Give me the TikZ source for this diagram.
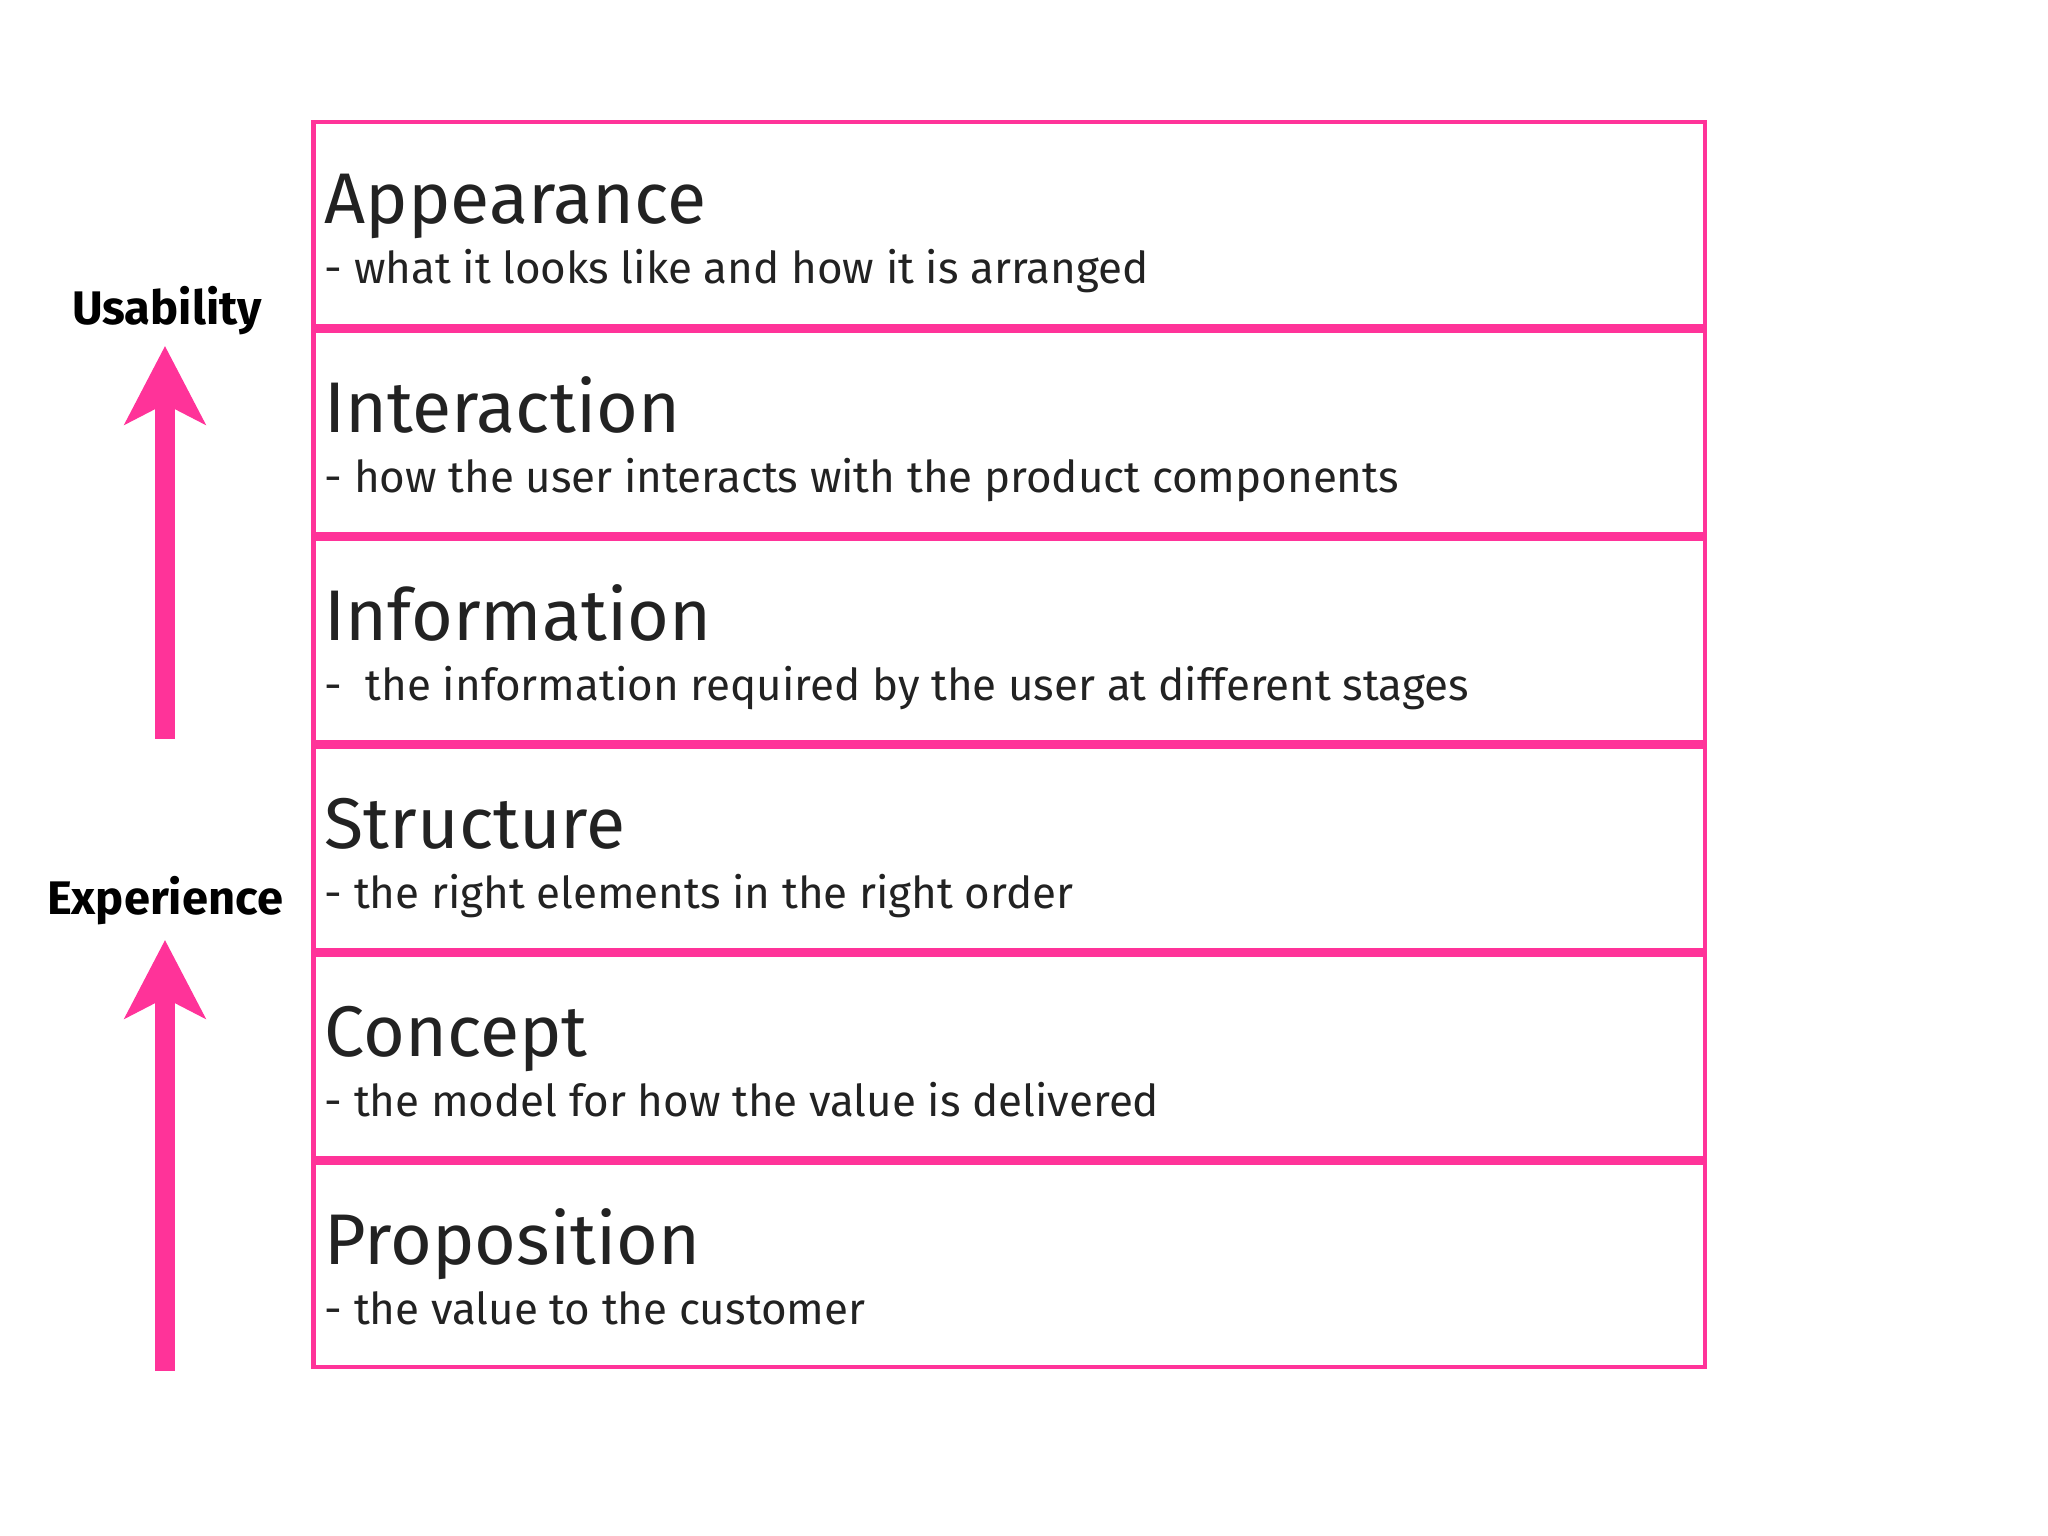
\documentclass[tikz,border=0pt]{standalone}
\usepackage{fontspec}
\setmainfont{Fira Sans}
\usetikzlibrary{positioning,arrows.meta}
\definecolor{planepink}{RGB}{255,51,153}
\definecolor{planetext}{RGB}{34,34,34}

\begin{document}
\begin{tikzpicture}[
  layer/.style={draw=planepink,line width=0.045cm,fill=white,inner sep=0pt,
    minimum width=13.915cm,minimum height=2.037cm},
  ltitle/.style={anchor=base west,inner sep=0pt,text=planetext,font=\fontsize{20.4pt}{24pt}\selectfont},
  lsub/.style={anchor=base west,inner sep=0pt,text=planetext,font=\fontsize{12.5pt}{15pt}\selectfont},
  side/.style={anchor=base,inner sep=0pt,font=\fontsize{13.4pt}{16pt}\selectfont\bfseries},
  uparrow/.style={draw=planepink,line width=0.19cm,-{Stealth[length=0.78cm,width=0.80cm,inset=0.2cm]}},
  node distance=0pt
]
\useasboundingbox (0,0) rectangle (20.48,15.36);
\node[layer,anchor=north west] (appear) at (3.11,14.16) {};
\node[layer,below=of appear] (inter) {};
\node[layer,below=of inter] (info) {};
\node[layer,below=of info] (struct) {};
\node[layer,below=of struct] (concept) {};
\node[layer,below=of concept] (prop) {};
\foreach \row/\title/\sub in {appear/Appearance/- what it looks like and how it is arranged,
    inter/Interaction/- how the user interacts with the product components,
    info/Information/-\ \ the information required by the user at different stages,
    struct/Structure/- the right elements in the right order,
    concept/Concept/- the model for how the value is delivered,
    prop/Proposition/- the value to the customer}{
  \node[ltitle] (\row-title) at ([shift={(0.13,-1.04)}]\row.north west) {\title};
  \node[lsub] (\row-sub) at ([shift={(0.13,-1.64)}]\row.north west) {\sub};
}
\node[side] (usab) at (1.67,12.11) {Usability};
\node[side] (exper) at (1.65,6.21) {Experience};
\coordinate (usabfoot) at (1.65,7.97);
\coordinate (usabtip) at (1.65,11.90);
\coordinate (experfoot) at (1.65,1.65);
\coordinate (expertip) at (1.65,5.96);
\draw[uparrow] (usabfoot) -- (usabtip);
\draw[uparrow] (experfoot) -- (expertip);
\end{tikzpicture}
\end{document}
